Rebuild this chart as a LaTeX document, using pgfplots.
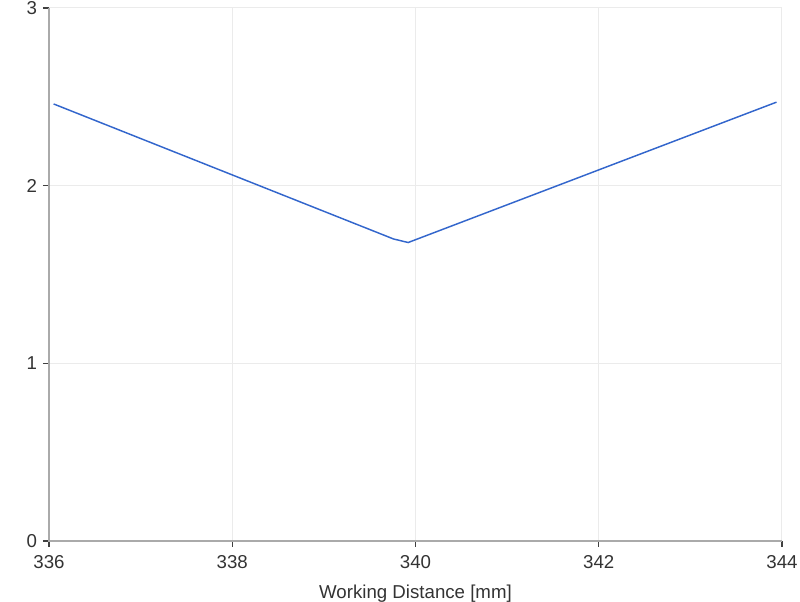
\documentclass[border=0pt]{standalone}
\usepackage{pgfplots}
\pgfplotsset{compat=1.18}
\usepackage{fontspec}
\setmainfont{Liberation Sans}
\definecolor{lineblue}{RGB}{51,102,204}
\definecolor{axgrey}{RGB}{170,170,170}
\definecolor{gridgrey}{RGB}{235,235,235}
\begin{document}
\begin{tikzpicture}[font=\fontsize{14}{16}\selectfont]
\begin{axis}[
  scale only axis,
  width=549.75pt, height=399.75pt,
  xmin=336, xmax=344, ymin=0, ymax=3,
  xtick={336,338,...,344}, ytick={0,1,2,3},
  axis x line=bottom, axis y line=left,
  axis line style={draw=axgrey, -},
  tick style={black!75, line width=1pt},
  tick align=outside, major tick length=4.5pt,
  grid=major, major grid style={gridgrey, line width=0.75pt},
  /pgf/number format/assume math mode=true,
  /pgf/number format/.cd, 1000 sep={}, /pgfplots/.cd,
  ticklabel style={text=black!80},
  xticklabel style={yshift=-3pt},
  yticklabel style={xshift=-1pt},
  xlabel={Working Distance [mm]},
  xlabel style={text=black!80, yshift=-5pt},
  clip=false,
]
\addplot[lineblue, line width=1.1pt] coordinates {
  (336.05, 2.46) (339.76, 1.70) (339.92, 1.68) (343.94, 2.47)
};
\draw[axgrey, line width=1.8pt] (rel axis cs:0,1) -- (rel axis cs:0,0) -- (rel axis cs:1,0);
\end{axis}
\pgfresetboundingbox
\path (-36.75pt,-45.75pt) rectangle (563.25pt,405.75pt);
\end{tikzpicture}
\end{document}
